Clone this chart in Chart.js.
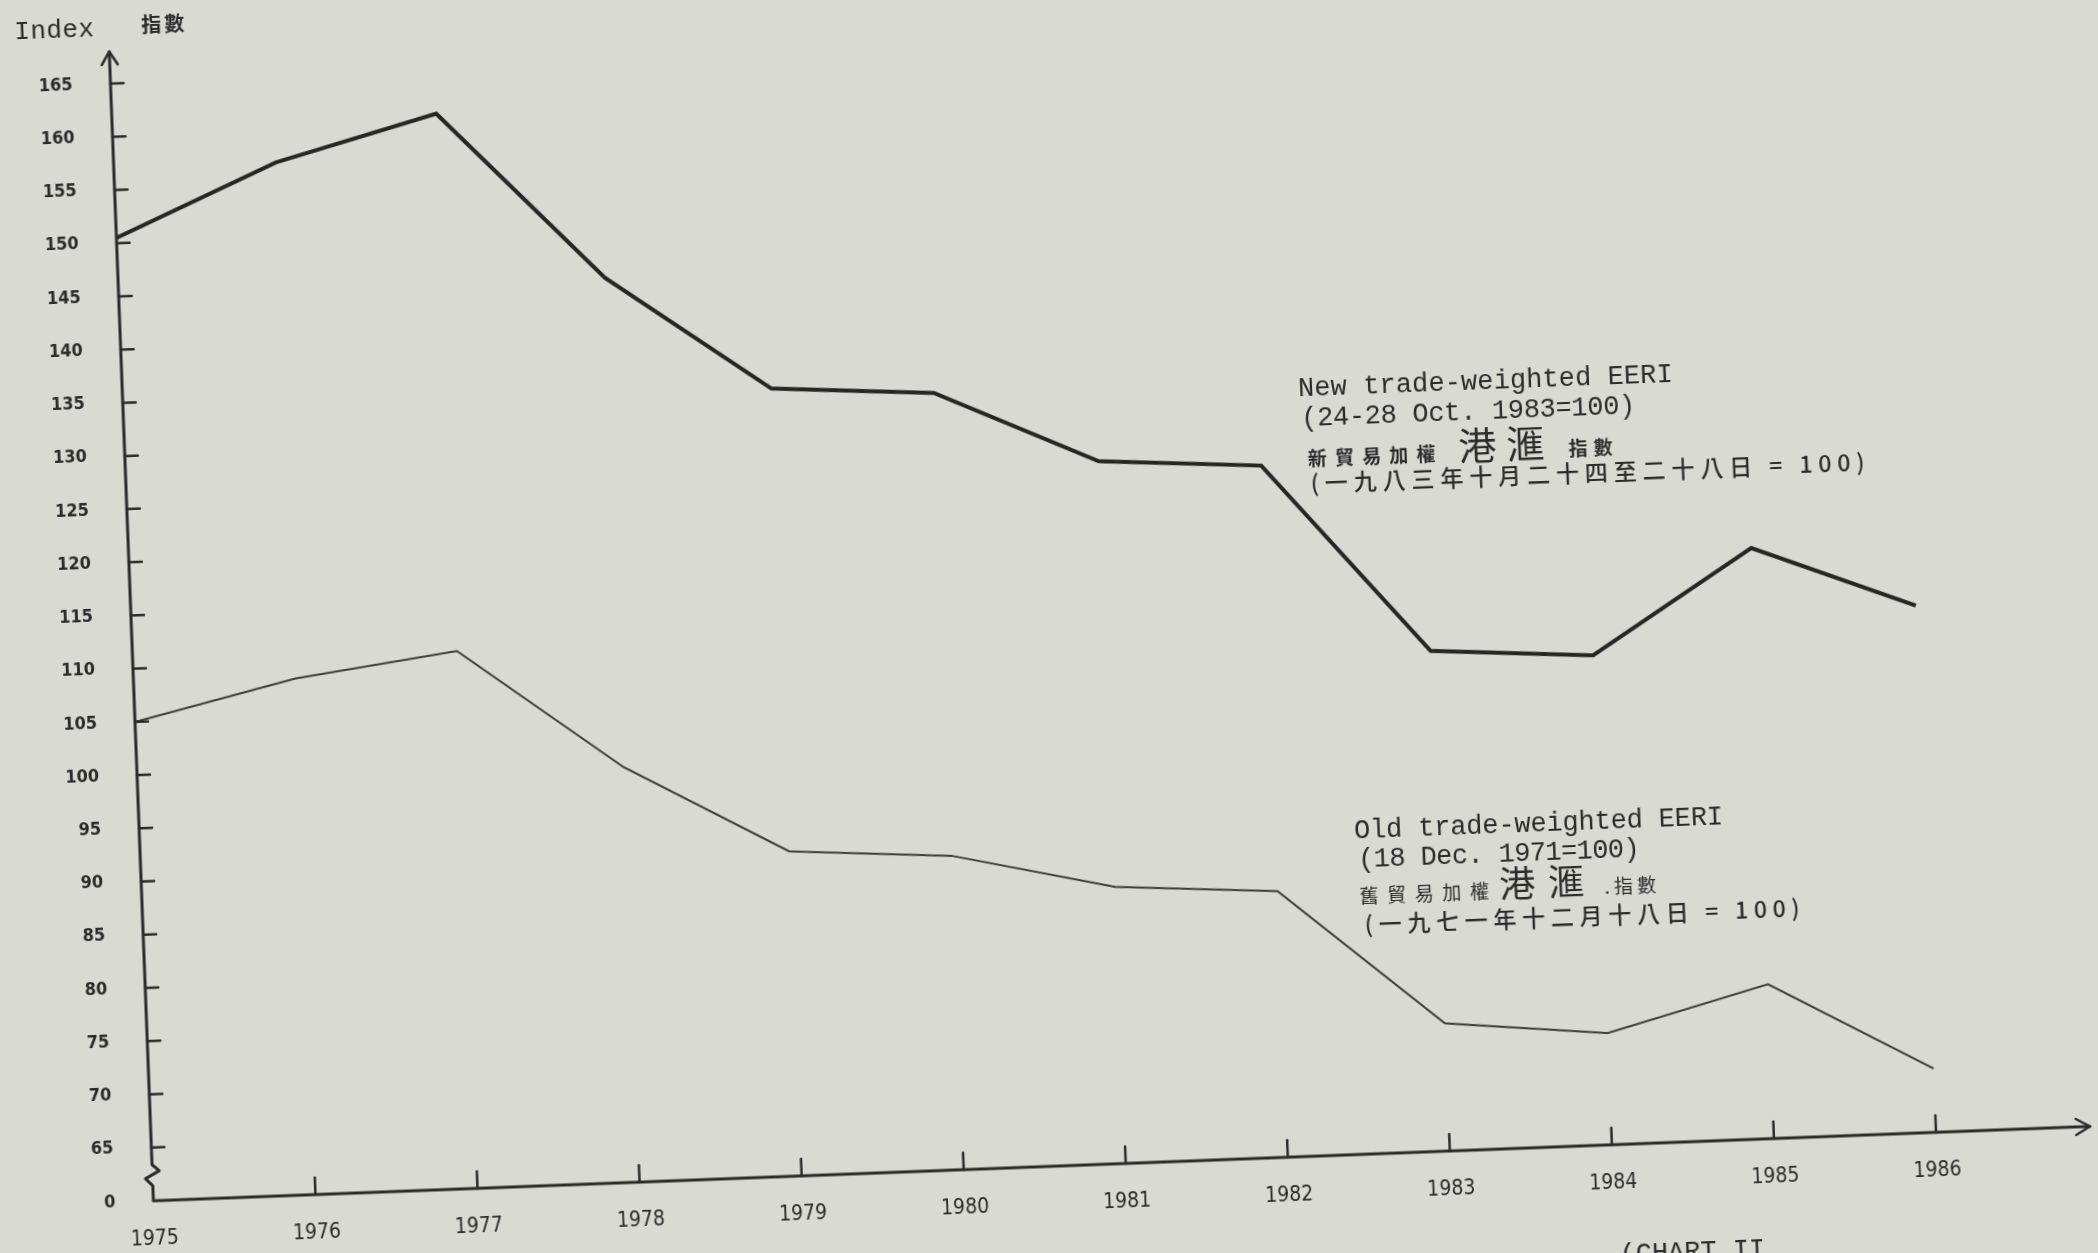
<!DOCTYPE html>
<html>
<head>
<meta charset="utf-8">
<title>EERI chart</title>
<script src="https://cdn.jsdelivr.net/npm/chart.js@4/dist/chart.umd.min.js"></script>
<style>
  html, body {
    margin: 0;
    padding: 0;
    width: 2098px;
    height: 1253px;
    overflow: hidden;
    background: #d9dad2;
  }
  /* the scanned sheet sits a little crooked, so the whole drawing is turned */
  #sheet {
    position: absolute;
    left: -61px;
    top: -64px;
    width: 2220px;
    height: 1380px;
    transform: rotate(-2.2deg);
    transform-origin: 50% 50%;
  }
</style>
</head>
<body>
<div id="sheet">
  <canvas id="eeriChart" width="2220" height="1380"></canvas>
</div>

<script>
// Data
const years = [1975, 1976, 1977, 1978, 1979, 1980, 1981, 1982, 1983, 1984, 1985, 1986];
const newIndex = [150.5, 157, 161, 145, 134, 133, 126, 125, 107, 106, 115.5, 109.5];
const oldIndex = [105, 108.5, 110.5, 99, 90.5, 89.5, 86, 85, 72, 70.5, 74.5, 66];

// y axis: broken scale, bottom of axis is labelled 0
const yTicks = [65, 70, 75, 80, 85, 90, 95, 100, 105, 110, 115, 120, 125, 130, 135, 140, 145, 150, 155, 160, 165];
const yBreakValue = 60;
const yBreakLabel = '0';

const newLabel = ['New trade-weighted EERI', '(24-28 Oct. 1983=100)'];
const newLabelZh = ['新貿易加權', '港滙', '指數', '(一九八三年十月二十四至二十八日 = 100)'];
const oldLabel = ['Old trade-weighted EERI', '(18 Dec. 1971=100)'];
const oldLabelZh = ['舊貿易加權', '港滙', '.指數', '(一九七一年十二月十八日 = 100)'];

const ink = '#2b2b2b';
const mono = '"Liberation Mono", "DejaVu Sans Mono", monospace';
const cjk = '"Noto Sans CJK TC", "Noto Sans CJK SC", sans-serif';
const narrow = '"Liberation Sans Narrow", "DejaVu Sans Condensed", sans-serif';

// write text stretched to a given width (typewriter spacing)
function drawFit(ctx, text, x, y, font, width) {
  ctx.font = font;
  ctx.letterSpacing = '0px';
  const w = ctx.measureText(text).width;
  const n = [...text].length;
  if (width && n > 1) {
    const ls = Math.max(-2, (width - w) / n);
    ctx.letterSpacing = ls.toFixed(2) + 'px';
  }
  ctx.fillText(text, x, y);
  ctx.letterSpacing = '0px';
}

const paperPlugin = {
  id: 'paper',
  afterDraw(chart) {
    const { ctx, chartArea: a, scales } = chart;
    const xs = scales.x, ys = scales.y;
    const x0 = a.left;
    const yb = ys.getPixelForValue(yBreakValue);

    ctx.save();
    ctx.strokeStyle = ink;
    ctx.lineWidth = 3;
    ctx.lineCap = 'round';
    ctx.lineJoin = 'round';

    // y axis with break
    const zTop = ys.getPixelForValue(63.4);
    const zBot = ys.getPixelForValue(61.4);
    const zh = zBot - zTop;
    ctx.beginPath();
    ctx.moveTo(x0, a.top);
    ctx.lineTo(x0, zTop);
    ctx.lineTo(x0 + 7, zTop + zh * 0.3);
    ctx.lineTo(x0 - 7, zTop + zh * 0.65);
    ctx.lineTo(x0, zBot);
    ctx.lineTo(x0, yb);
    ctx.lineTo(a.right, yb);
    ctx.stroke();

    // arrow heads
    ctx.lineWidth = 2.5;
    ctx.beginPath();
    ctx.moveTo(x0 - 8, a.top + 13);
    ctx.lineTo(x0, a.top);
    ctx.lineTo(x0 + 8, a.top + 13);
    ctx.moveTo(a.right - 14, yb - 8);
    ctx.lineTo(a.right, yb);
    ctx.lineTo(a.right - 14, yb + 8);
    ctx.stroke();

    // tick marks drawn inside the axes
    ctx.lineWidth = 2.5;
    ctx.beginPath();
    yTicks.forEach(v => {
      const py = ys.getPixelForValue(v);
      ctx.moveTo(x0, py);
      ctx.lineTo(x0 + 13, py);
    });
    years.slice(1).forEach(v => {
      const px = xs.getPixelForValue(v);
      ctx.moveTo(px, yb);
      ctx.lineTo(px, yb - 17);
    });
    ctx.stroke();

    // axis titles
    ctx.fillStyle = ink;
    ctx.textBaseline = 'alphabetic';
    ctx.textAlign = 'left';
    drawFit(ctx, 'Index', x0 - 94, a.top - 16, '26px ' + mono, 80);
    drawFit(ctx, '指數', x0 + 33, a.top - 18, 'bold 20px ' + cjk, 46);

    // note for the new index
    let lx = 1368, ly = 470;
    drawFit(ctx, newLabel[0], lx, ly, '27px ' + mono, 375);
    drawFit(ctx, newLabel[1], lx + 2, ly + 30, '27px ' + mono, 334);
    drawFit(ctx, newLabelZh[0], lx + 7, ly + 70, 'bold 19px ' + cjk, 136);
    drawFit(ctx, newLabelZh[1], lx + 158, ly + 70, '38px ' + cjk, 96);
    drawFit(ctx, newLabelZh[2], lx + 268, ly + 70, 'bold 19px ' + cjk, 50);
    drawFit(ctx, newLabelZh[3], lx + 9, ly + 96, '500 23px ' + cjk, 560);

    // note for the old index
    lx = 1407; ly = 914;
    drawFit(ctx, oldLabel[0], lx, ly, '27px ' + mono, 369);
    drawFit(ctx, oldLabel[1], lx + 3, ly + 29, '27px ' + mono, 281);
    drawFit(ctx, oldLabelZh[0], lx + 3, ly + 65, '19px ' + cjk, 138);
    drawFit(ctx, oldLabelZh[1], lx + 143, ly + 65, '36px ' + cjk, 98);
    drawFit(ctx, oldLabelZh[2], lx + 248, ly + 65, '19px ' + cjk, 56);
    drawFit(ctx, oldLabelZh[3], lx + 7, ly + 95, '500 23px ' + cjk, 441);

    // caption cut off by the bottom edge of the scan
    drawFit(ctx, '(CHART II', 1656, 1348, '27px ' + mono, 0);

    ctx.restore();
  }
};

const ctx = document.getElementById('eeriChart').getContext('2d');

new Chart(ctx, {
  type: 'line',
  data: {
    datasets: [
      {
        label: 'New trade-weighted EERI',
        data: years.map((yr, i) => ({ x: yr, y: newIndex[i] })),
        borderColor: '#262626',
        borderWidth: 4,
        pointRadius: 0,
        tension: 0,
        fill: false
      },
      {
        label: 'Old trade-weighted EERI',
        data: years.map((yr, i) => ({ x: yr, y: oldIndex[i] })),
        borderColor: '#3c3c3c',
        borderWidth: 2,
        pointRadius: 0,
        tension: 0,
        fill: false
      }
    ]
  },
  options: {
    responsive: false,
    animation: false,
    layout: {
      padding: { top: 80, right: 89, left: 0, bottom: 0 }
    },
    plugins: {
      legend: { display: false },
      tooltip: { enabled: false }
    },
    scales: {
      x: {
        type: 'linear',
        min: 1975,
        max: 1986.95,
        afterBuildTicks: scale => {
          scale.ticks = years.map(v => ({ value: v }));
        },
        afterFit: scale => {
          scale.height = 150;
        },
        grid: { display: false },
        border: { display: false },
        ticks: {
          color: ink,
          padding: 18,
          maxRotation: 0,
          autoSkip: false,
          font: { family: narrow, size: 21 },
          callback: value => String(value)
        }
      },
      y: {
        type: 'linear',
        min: yBreakValue,
        max: 168,
        afterBuildTicks: scale => {
          scale.ticks = [yBreakValue].concat(yTicks).map(v => ({ value: v }));
        },
        afterFit: scale => {
          scale.width = 193;
        },
        grid: { display: false },
        border: { display: false },
        ticks: {
          color: ink,
          padding: 30,
          autoSkip: false,
          font: { family: narrow, size: 18, weight: 'bold' },
          callback: value => (value === yBreakValue ? yBreakLabel : String(value))
        }
      }
    }
  },
  plugins: [paperPlugin]
});
</script>
</body>
</html>
